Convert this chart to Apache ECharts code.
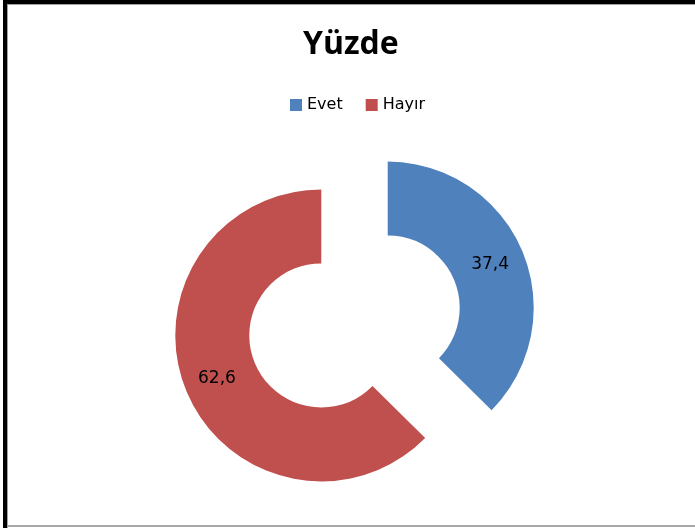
<!DOCTYPE html>
<html>
<head>
<meta charset="utf-8">
<script src="https://cdn.jsdelivr.net/npm/echarts@6/dist/echarts.min.js"></script>
<style>
  html, body { margin: 0; padding: 0; background: #fff; }
  #chart { width: 695px; height: 528px; }
</style>
</head>
<body>
<div id="chart"></div>
<script>
// Survey answers, in percent
const categories = ['Evet', 'Hayır'];
const values = [37.4, 62.6];
const colors = ['#4F81BD', '#C0504D'];
const titleText = 'Yüzde';

const chart = echarts.init(document.getElementById('chart'), null, { renderer: 'canvas' });

const pieData = categories.map((name, i) => ({
  name: name,
  value: values[i],
  selected: true,
  itemStyle: { color: colors[i] },
  select: { itemStyle: { color: colors[i], borderWidth: 0 } }
}));

chart.setOption({
  backgroundColor: '#ffffff',
  animation: false,
  title: {
    text: titleText,
    left: 298,
    top: 24,
    textStyle: {
      fontFamily: 'Open Sans',
      fontWeight: 'bold',
      fontSize: 32,
      color: '#000000'
    }
  },
  legend: {
    left: 285,
    top: 92,
    itemWidth: 12,
    itemHeight: 12,
    itemGap: 23,
    icon: 'rect',
    selectedMode: false,
    data: categories,
    textStyle: {
      fontFamily: 'DejaVu Sans',
      fontSize: 16,
      color: '#000000'
    }
  },
  graphic: [
    // frame: heavy black top/left edges, thin grey inner and bottom lines
    { type: 'rect', shape: { x: 3, y: 0, width: 692, height: 4 }, style: { fill: '#000' }, silent: true },
    { type: 'rect', shape: { x: 3, y: 0, width: 4, height: 528 }, style: { fill: '#000' }, silent: true },
    { type: 'rect', shape: { x: 7, y: 4, width: 688, height: 1 }, style: { fill: '#a0a0a0' }, silent: true },
    { type: 'rect', shape: { x: 7, y: 4, width: 1, height: 524 }, style: { fill: '#a0a0a0' }, silent: true },
    { type: 'rect', shape: { x: 7, y: 525, width: 688, height: 2 }, style: { fill: '#a8a8a8' }, silent: true }
  ],
  series: [{
    type: 'pie',
    center: [354.5, 321.5],
    radius: [72, 146],
    startAngle: 90,
    clockwise: true,
    selectedMode: 'multiple',
    selectedOffset: 36,
    avoidLabelOverlap: false,
    emphasis: { disabled: true },
    itemStyle: { borderWidth: 0 },
    label: {
      show: true,
      position: 'inside',
      padding: [8, 2, 0, 0],
      fontFamily: 'DejaVu Sans',
      fontSize: 17,
      color: '#000000',
      formatter: p => String(p.value).replace('.', ',')
    },
    labelLine: { show: false },
    data: pieData
  }]
});
</script>
</body>
</html>
